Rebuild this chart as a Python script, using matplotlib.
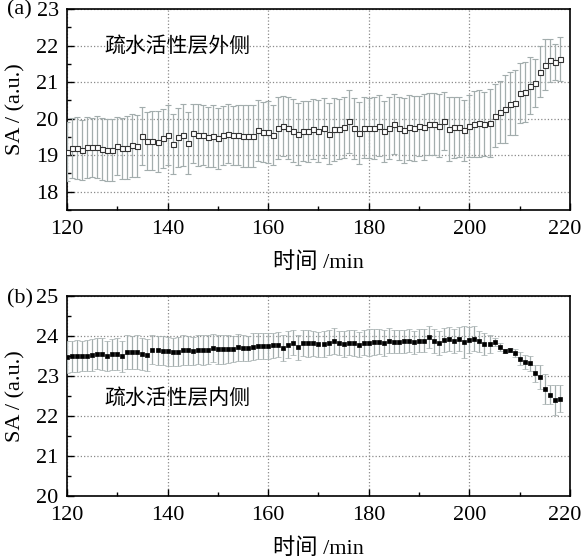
import matplotlib
matplotlib.use("Agg")
import matplotlib.pyplot as plt
from matplotlib.ticker import MultipleLocator
from matplotlib.transforms import ScaledTranslation

# ---------------- data ----------------
time_min = list(range(120, 219))

sa_outer = [19.10, 19.20, 19.20, 19.14, 19.21, 19.21, 19.22, 19.17, 19.14, 19.14,
            19.25, 19.19, 19.20, 19.27, 19.24, 19.53, 19.39, 19.40, 19.37, 19.46,
            19.54, 19.30, 19.49, 19.55, 19.33, 19.60, 19.55, 19.55, 19.50, 19.52,
            19.46, 19.54, 19.59, 19.54, 19.56, 19.52, 19.52, 19.52, 19.68, 19.64,
            19.63, 19.55, 19.74, 19.79, 19.74, 19.67, 19.58, 19.65, 19.65, 19.72,
            19.66, 19.74, 19.59, 19.71, 19.72, 19.76, 19.93, 19.73, 19.61, 19.75,
            19.74, 19.75, 19.81, 19.65, 19.74, 19.85, 19.73, 19.68, 19.76, 19.74,
            19.81, 19.78, 19.85, 19.85, 19.81, 19.93, 19.71, 19.76, 19.76, 19.68,
            19.80, 19.85, 19.87, 19.85, 19.88, 20.08, 20.17, 20.26, 20.41, 20.44,
            20.69, 20.73, 20.90, 20.98, 21.28, 21.48, 21.59, 21.55, 21.64]

err_outer = [0.82, 0.83, 0.85, 0.83, 0.83, 0.82, 0.84, 0.85, 0.86, 0.85,
             0.80, 0.83, 0.86, 0.86, 0.85, 0.80, 0.80, 0.80, 0.83, 0.80,
             0.82, 0.82, 0.80, 0.85, 0.84, 0.81, 0.84, 0.82, 0.82, 0.85,
             0.83, 0.80, 0.80, 0.80, 0.82, 0.84, 0.85, 0.84, 0.83, 0.82,
             0.84, 0.82, 0.84, 0.82, 0.84, 0.86, 0.84, 0.82, 0.83, 0.82,
             0.84, 0.82, 0.84, 0.86, 0.82, 0.83, 0.86, 0.83, 0.85, 0.84,
             0.82, 0.85, 0.84, 0.83, 0.84, 0.82, 0.86, 0.89, 0.88, 0.89,
             0.82, 0.90, 0.85, 0.85, 0.85, 0.80, 0.87, 0.84, 0.82, 0.84,
             0.84, 0.90, 0.92, 0.88, 0.92, 0.86, 0.85, 0.93, 0.86, 0.89,
             0.82, 0.82, 0.78, 0.65, 0.70, 0.70, 0.58, 0.50, 0.60]

sa_inner = [23.47, 23.49, 23.49, 23.50, 23.50, 23.53, 23.55, 23.54, 23.49, 23.54,
            23.55, 23.49, 23.59, 23.59, 23.59, 23.54, 23.51, 23.65, 23.64, 23.63,
            23.61, 23.59, 23.60, 23.64, 23.64, 23.63, 23.65, 23.65, 23.65, 23.69,
            23.66, 23.66, 23.66, 23.67, 23.71, 23.69, 23.69, 23.73, 23.75, 23.75,
            23.75, 23.76, 23.78, 23.69, 23.78, 23.83, 23.71, 23.82, 23.81, 23.81,
            23.79, 23.79, 23.83, 23.87, 23.82, 23.79, 23.83, 23.82, 23.78, 23.83,
            23.83, 23.84, 23.85, 23.82, 23.88, 23.85, 23.85, 23.86, 23.88, 23.84,
            23.88, 23.88, 23.97, 23.88, 23.82, 23.90, 23.92, 23.88, 23.92, 23.84,
            23.90, 23.93, 23.86, 23.79, 23.80, 23.84, 23.72, 23.62, 23.64, 23.57,
            23.43, 23.35, 23.31, 23.06, 22.97, 22.67, 22.53, 22.40, 22.43]

err_inner = [0.40, 0.39, 0.40, 0.38, 0.39, 0.40, 0.39, 0.40, 0.38, 0.39,
             0.40, 0.39, 0.42, 0.41, 0.42, 0.40, 0.40, 0.36, 0.36, 0.37,
             0.36, 0.35, 0.36, 0.37, 0.36, 0.35, 0.36, 0.37, 0.36, 0.35,
             0.36, 0.36, 0.35, 0.32, 0.33, 0.32, 0.31, 0.33, 0.32, 0.32,
             0.33, 0.32, 0.31, 0.32, 0.33, 0.32, 0.31, 0.32, 0.33, 0.32,
             0.31, 0.33, 0.32, 0.32, 0.31, 0.33, 0.32, 0.32, 0.31, 0.32,
             0.33, 0.32, 0.31, 0.32, 0.32, 0.29, 0.29, 0.29, 0.29, 0.29,
             0.29, 0.29, 0.28, 0.30, 0.30, 0.30, 0.30, 0.30, 0.30, 0.40,
             0.32, 0.32, 0.27, 0.27, 0.23, 0.10, 0.10, 0.05, 0.05, 0.10,
             0.16, 0.18, 0.19, 0.22, 0.30, 0.37, 0.24, 0.38, 0.33]

xticks = [120, 140, 160, 180, 200, 220]
yticks_outer = [18, 19, 20, 21, 22, 23]
yticks_inner = [20, 21, 22, 23, 24, 25]

# ---------------- style ----------------
SERIF = ['Liberation Serif', 'DejaVu Serif']
MIXED = ['Liberation Serif', 'Noto Sans CJK SC', 'DejaVu Sans']
plt.rcParams['font.family'] = MIXED
ERRCOL = '#a3adad'

fig = plt.figure(figsize=(5.84, 5.60), dpi=100)
ax1 = fig.add_axes([0.1147, 0.625, 0.8613, 0.359])
ax2 = fig.add_axes([0.1147, 0.1143, 0.8613, 0.3577])


def style(ax, ylim, yticks):
    ax.set_xlim(120, 220)
    ax.set_ylim(*ylim)
    ax.set_xticks(xticks)
    ax.set_yticks(yticks)
    ax.xaxis.set_minor_locator(MultipleLocator(10))
    ax.yaxis.set_minor_locator(MultipleLocator(0.5))
    ax.tick_params(which='both', direction='in', top=False, right=False,
                   labelsize=16, width=1.0)
    ax.tick_params(axis='x', which='major', length=5, pad=7)
    ax.tick_params(axis='y', which='major', length=5, pad=6)
    ax.tick_params(which='minor', length=3)
    for lab in ax.get_xticklabels() + ax.get_yticklabels():
        lab.set_family(SERIF)
    # keep the last x label inside the figure, as in the reference
    last = ax.get_xticklabels()[-1]
    last.set_transform(last.get_transform() +
                       ScaledTranslation(-5 / 100, 0, fig.dpi_scale_trans))
    ax.grid(True, which='major', linestyle=':', color='#8a8a8a', linewidth=0.9)
    ax.set_axisbelow(True)
    for s in ax.spines.values():
        s.set_linewidth(1.2)
        s.set_color('black')
    ax.set_xlabel('时间 /min', fontsize=16, family=MIXED, labelpad=10)
    ax.set_ylabel('SA / (a.u.)', fontsize=16, family=SERIF, labelpad=8)


ax1.errorbar(time_min, sa_outer, yerr=err_outer, fmt='s', ms=3.6,
             mfc='white', mec='#333333', mew=0.8, ecolor=ERRCOL,
             elinewidth=0.9, capsize=2.4, capthick=0.9, zorder=3)
style(ax1, (17.5, 23), yticks_outer)
ax1.text(0.075, 0.816, '疏水活性层外侧', transform=ax1.transAxes,
         fontsize=15, family=['Noto Sans CJK SC'], va='center', ha='left')

ax2.errorbar(time_min, sa_inner, yerr=err_inner, fmt='s', ms=3.0,
             mfc='black', mec='black', mew=0.5, ecolor=ERRCOL,
             elinewidth=0.9, capsize=2.4, capthick=0.9, zorder=3)
style(ax2, (20, 25), yticks_inner)
ax2.text(0.075, 0.49, '疏水活性层内侧', transform=ax2.transAxes,
         fontsize=15, family=['Noto Sans CJK SC'], va='center', ha='left')

fig.text(0.012, 0.982, '(a)', fontsize=16, family=SERIF, va='center')
fig.text(0.012, 0.466, '(b)', fontsize=16, family=SERIF, va='center')

fig.savefig('out.png', dpi=100)
